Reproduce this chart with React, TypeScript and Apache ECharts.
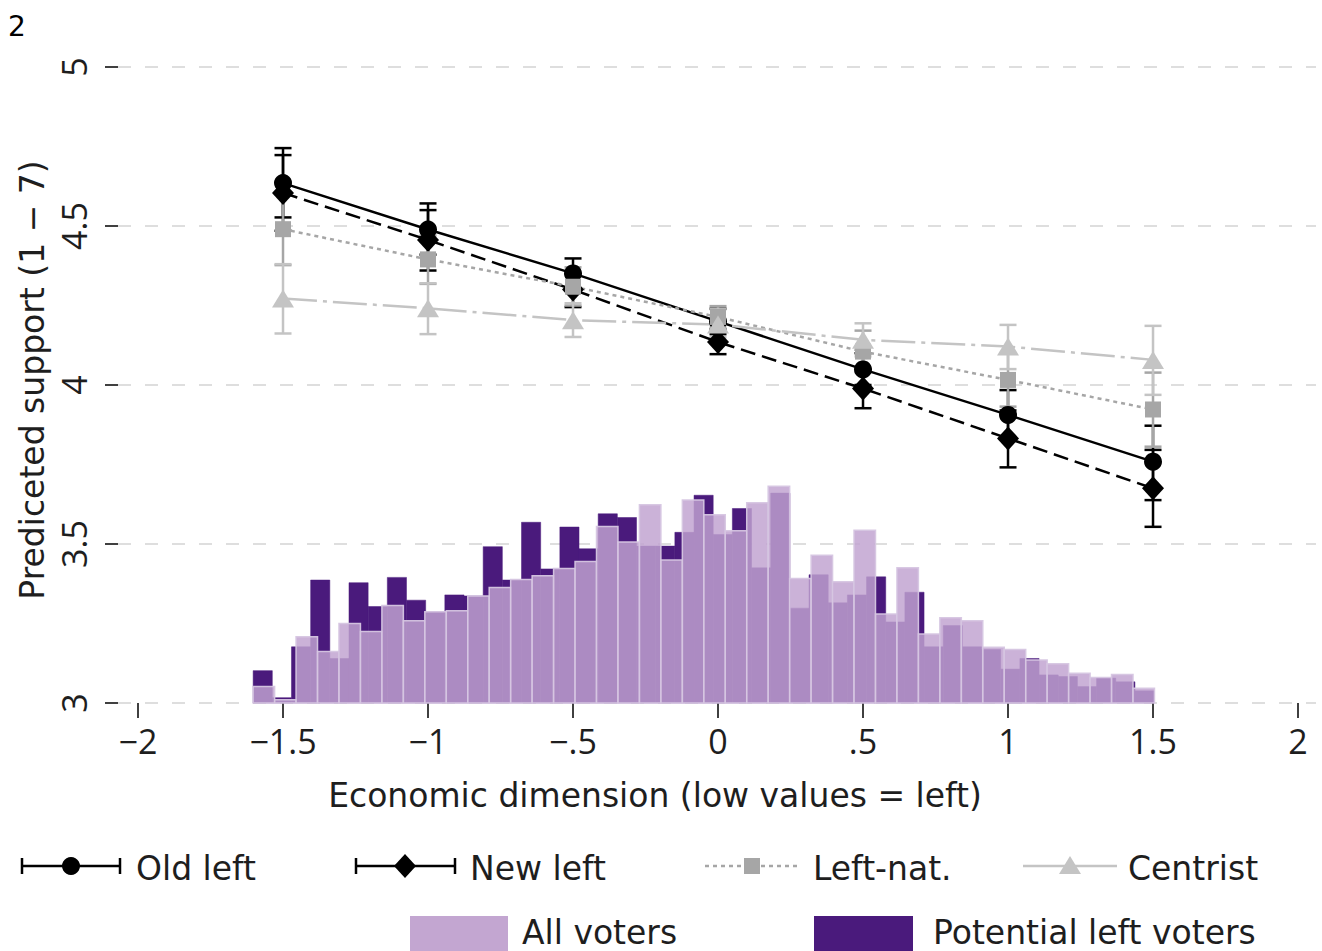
import React, { useEffect, useRef } from "react";
import * as echarts from "echarts";

// ---------- data ----------
const xPoints = [-1.5, -1, -0.5, 0, 0.5, 1, 1.5];

const oldLeft = [4.635, 4.489, 4.351, 4.2, 4.049, 3.906, 3.759];
const oldLeftLo = [4.527, 4.41, 4.3, 4.16, 4.0, 3.83, 3.638];
const oldLeftHi = [4.745, 4.571, 4.398, 4.24, 4.1, 3.984, 3.872];

const newLeft = [4.604, 4.456, 4.3, 4.135, 3.989, 3.832, 3.675];
const newLeftLo = [4.485, 4.36, 4.245, 4.097, 3.927, 3.741, 3.554];
const newLeftHi = [4.723, 4.55, 4.35, 4.175, 4.05, 3.92, 3.796];

const leftNat = [4.49, 4.395, 4.309, 4.214, 4.105, 4.016, 3.923];
const leftNatLo = [4.377, 4.318, 4.25, 4.18, 4.04, 3.932, 3.806];
const leftNatHi = [4.6, 4.47, 4.37, 4.248, 4.171, 4.1, 4.039];

const centrist = [4.272, 4.241, 4.204, 4.19, 4.142, 4.121, 4.079];
const centristLo = [4.162, 4.16, 4.151, 4.15, 4.09, 4.05, 3.969];
const centristHi = [4.38, 4.32, 4.257, 4.238, 4.194, 4.189, 4.186];

// histograms (percent of respondents per bin)
const histStart = -1.603;
const allBinWidth = 0.074;
const leftBinWidth = 0.0661;
const allVoters = [
  0.31, 0.06, 1.25, 0.97, 1.5, 1.35, 1.84, 1.55, 1.72, 1.74, 2.02, 2.18, 2.33, 2.4,
  2.54, 2.67, 3.33, 3.04, 3.74, 2.7, 3.83, 3.55, 3.25, 3.78, 4.09, 2.35, 2.79, 2.29,
  3.26, 1.68, 2.55, 1.3, 1.61, 1.55, 1.05, 1.01, 0.81, 0.74, 0.56, 0.48, 0.54, 0.28,
];
const potentialLeft = [
  0.61, 0.1, 1.06, 2.32, 0.84, 2.27, 1.82, 2.37, 1.94, 1.72, 2.04, 2.02, 2.95, 2.32,
  3.41, 2.53, 3.32, 2.91, 3.57, 3.5, 2.96, 2.96, 3.22, 3.92, 3.18, 3.67, 2.55, 3.96,
  1.79, 2.42, 1.89, 2.04, 2.38, 1.53, 2.09, 1.06, 1.46, 1.06, 1.01, 0.64, 0.84, 0.53,
  0.5, 0.31, 0.47, 0.4, 0.23,
];

const xTicks = [-2, -1.5, -1, -0.5, 0, 0.5, 1, 1.5, 2];
const xTickLabels = ["−2", "−1.5", "−1", "−.5", "0", ".5", "1", "1.5", "2"];

const TICK_FONT = "Open Sans";
const FONT = "DejaVu Sans";
const TEXT = "#1e1e1e";

export default function App() {
  const ref = useRef<HTMLDivElement>(null);

  useEffect(() => {
    if (!ref.current) return;
    const chart = echarts.init(ref.current, null, { renderer: "svg" });

    const histData = (vals: number[], w: number) =>
      vals.map((v, i) => [histStart + i * w, histStart + (i + 1) * w, v]);

    const histSeries = (name: string, vals: number[], w: number, fill: string, stroke: string, lw: number, z: number) => ({
      name,
      type: "custom",
      xAxisIndex: 0,
      yAxisIndex: 1,
      z,
      silent: true,
      data: histData(vals, w),
      encode: { x: [0, 1], y: 2 },
      renderItem: (params: any, api: any) => {
        const tl = api.coord([api.value(0), api.value(2)]);
        const br = api.coord([api.value(1), 0]);
        return {
          type: "rect",
          shape: { x: tl[0], y: tl[1], width: br[0] - tl[0], height: br[1] - tl[1] },
          style: { fill, stroke, lineWidth: lw },
        };
      },
    });

    const errSeries = (name: string, lo: number[], hi: number[], color: string, z: number) => ({
      name: name + " CI",
      type: "custom",
      z,
      silent: true,
      data: xPoints.map((x, i) => [x, lo[i], hi[i]]),
      encode: { x: 0, y: [1, 2] },
      renderItem: (params: any, api: any) => {
        const x = api.value(0);
        const a = api.coord([x, api.value(1)]);
        const b = api.coord([x, api.value(2)]);
        const hw = 8.5;
        const st = { stroke: color, lineWidth: 2.5 };
        return {
          type: "group",
          children: [
            { type: "line", shape: { x1: a[0], y1: a[1], x2: b[0], y2: b[1] }, style: st },
            { type: "line", shape: { x1: a[0] - hw, y1: a[1], x2: a[0] + hw, y2: a[1] }, style: st },
            { type: "line", shape: { x1: b[0] - hw, y1: b[1], x2: b[0] + hw, y2: b[1] }, style: st },
          ],
        };
      },
    });

    const lineSeries = (name: string, vals: number[], color: string, symbol: string, size: any, type: any, z: number) => ({
      name,
      type: "line",
      z,
      data: xPoints.map((x, i) => [x, vals[i]]),
      symbol,
      symbolSize: size,
      showSymbol: true,
      lineStyle: { color, width: 2.5, type },
      itemStyle: { color, opacity: 1 },
      emphasis: { disabled: true },
    });

    const leg = (children: any[]) => ({ type: "group", children });
    const st = (c: string, w = 2.5, dash?: number[]) => ({ stroke: c, lineWidth: w, lineDash: dash });
    const ly = 866;
    const capLegend = (x1: number, x2: number) => [
      { type: "line", shape: { x1, y1: ly, x2, y2: ly }, style: st("#000") },
      { type: "line", shape: { x1, y1: ly - 8, x2: x1, y2: ly + 8 }, style: st("#000") },
      { type: "line", shape: { x1: x2, y1: ly - 8, x2, y2: ly + 8 }, style: st("#000") },
    ];
    const legText = (x: number, y: number, t: string) => ({
      type: "text",
      x,
      y,
      style: { text: t, font: `33px "${FONT}"`, fill: TEXT, textAlign: "left", textVerticalAlign: "middle" },
    });

    chart.setOption({
      animation: false,
      grid: { left: 118, right: 6, top: 67, bottom: 248, containLabel: false },
      xAxis: {
        type: "value",
        min: -2.069,
        max: 2.062,
        axisLine: { show: false, onZero: false },
        splitLine: { show: false },
        axisTick: { show: true, customValues: xTicks, length: 15, lineStyle: { color: "#000", width: 1.5 } },
        axisLabel: {
          customValues: xTicks,
          margin: 21,
          fontSize: 34,
          fontFamily: TICK_FONT,
          color: TEXT,
          formatter: (v: number) => {
            const i = xTicks.findIndex((t) => Math.abs(t - v) < 1e-6);
            return i >= 0 ? xTickLabels[i] : "";
          },
        },
      },
      yAxis: [
        {
          type: "value",
          min: 3,
          max: 5,
          interval: 0.5,
          axisLine: { show: false, onZero: false },
          axisTick: { show: true, length: 13, lineStyle: { color: "#000", width: 1.5 } },
          axisLabel: { rotate: 90, margin: 27, fontSize: 34, fontFamily: TICK_FONT, color: TEXT },
          splitLine: { show: true, lineStyle: { color: "#d4d4d4", width: 1.5, type: [13, 14] } },
        },
        { type: "value", min: 0, max: 12, show: false, axisLine: { onZero: false } },
      ],
      series: [
        histSeries("Potential left voters", potentialLeft, leftBinWidth, "#4a1a7c", "#4a1a7c", 0.5, 1),
        histSeries("All voters", allVoters, allBinWidth, "rgba(192,162,208,0.83)", "rgba(214,198,226,0.95)", 1.5, 2),
        errSeries("New left", newLeftLo, newLeftHi, "#000", 3),
        errSeries("Old left", oldLeftLo, oldLeftHi, "#000", 3),
        errSeries("Left-nat.", leftNatLo, leftNatHi, "#a6a6a6", 3),
        errSeries("Centrist", centristLo, centristHi, "#c4c4c4", 3),
        lineSeries("New left", newLeft, "#000", "diamond", [22, 24], [15, 7], 4),
        lineSeries("Old left", oldLeft, "#000", "circle", 18, "solid", 4),
        lineSeries("Left-nat.", leftNat, "#a6a6a6", "rect", 16, [4, 4], 4),
        lineSeries("Centrist", centrist, "#c4c4c4", "triangle", [22, 18], [34, 6, 4, 6], 4),
      ],
      graphic: [
        { type: "text", x: 8, y: 26, style: { text: "2", font: `28px "${FONT}"`, fill: "#000", textVerticalAlign: "middle" } },
        {
          type: "text",
          x: 655,
          y: 795,
          style: { text: "Economic dimension (low values = left)", font: `33px "${FONT}"`, fill: TEXT, textAlign: "center", textVerticalAlign: "middle" },
        },
        {
          type: "text",
          x: 32,
          y: 380,
          rotation: Math.PI / 2,
          style: { text: "Prediceted support (1 − 7)", font: `33px "${FONT}"`, fill: TEXT, textAlign: "center", textVerticalAlign: "middle" },
        },
        leg([
          ...capLegend(22, 120),
          { type: "circle", shape: { cx: 71, cy: ly, r: 9 }, style: { fill: "#000" } },
          legText(136, 868, "Old left"),
        ]),
        leg([
          ...capLegend(356, 455),
          { type: "polygon", shape: { points: [[405, ly - 12], [416, ly], [405, ly + 12], [394, ly]] }, style: { fill: "#000" } },
          legText(470, 868, "New left"),
        ]),
        leg([
          { type: "line", shape: { x1: 705, y1: ly, x2: 800, y2: ly }, style: st("#a6a6a6", 2.5, [4, 4]) },
          { type: "rect", shape: { x: 744, y: ly - 8, width: 16, height: 16 }, style: { fill: "#a6a6a6" } },
          legText(813, 868, "Left-nat."),
        ]),
        leg([
          { type: "line", shape: { x1: 1023, y1: ly, x2: 1117, y2: ly }, style: st("#c4c4c4", 2.5) },
          { type: "polygon", shape: { points: [[1070, ly - 10], [1081, ly + 8], [1059, ly + 8]] }, style: { fill: "#c4c4c4" } },
          legText(1128, 868, "Centrist"),
        ]),
        { type: "rect", shape: { x: 410, y: 916, width: 98, height: 40 }, style: { fill: "#c3a6d1" } },
        legText(522, 932, "All voters"),
        { type: "rect", shape: { x: 814, y: 916, width: 99, height: 40 }, style: { fill: "#4a1a7c" } },
        legText(933, 932, "Potential left voters"),
      ],
    });

    return () => chart.dispose();
  }, []);

  return (
    <div
      ref={ref}
      style={{ position: "fixed", left: 0, top: 0, width: 1322, height: 951, background: "#fff" }}
    />
  );
}
